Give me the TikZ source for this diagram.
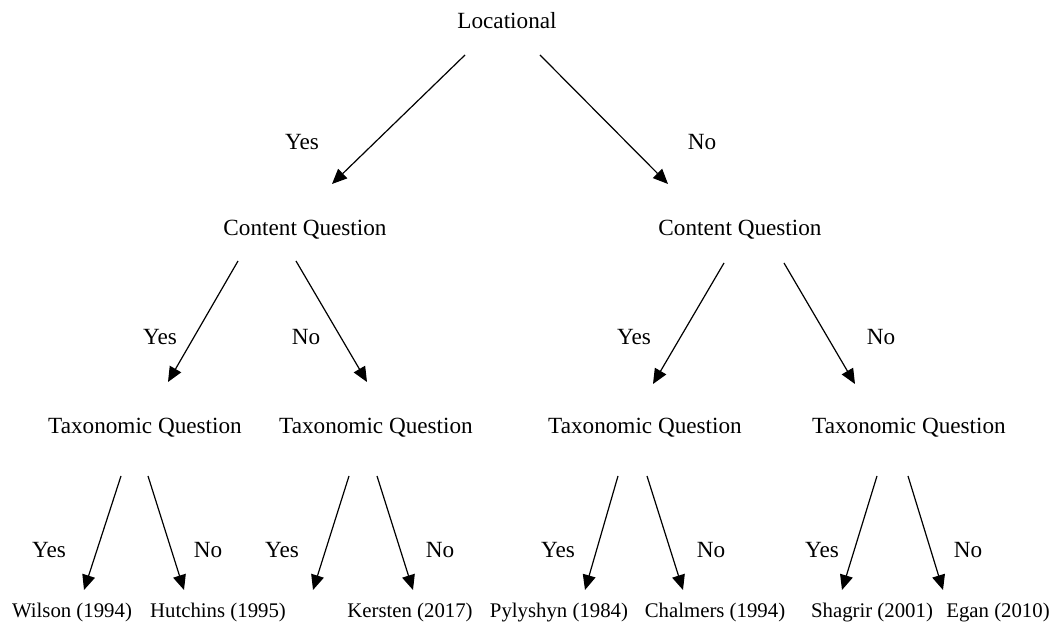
\documentclass[tikz,border=0pt]{standalone}
\usepackage{fontspec}
\setmainfont{Liberation Serif}
\usepackage{tikz}
\usetikzlibrary{calc,arrows.meta}
\tikzset{
  qnode/.style={inner sep=0pt,anchor=base,font=\fontsize{11.6}{14}\selectfont},
  ans/.style={inner sep=0pt,anchor=base,font=\fontsize{11.6}{14}\selectfont},
  leaf/.style={inner sep=0pt,anchor=base,font=\fontsize{10.4}{12.5}\selectfont},
  arr/.style={line width=0.6pt,-{Triangle[length=7.5pt,width=6.5pt]}},
}

\begin{document}
\begin{tikzpicture}[x=0.5pt,y=-0.5pt]
  \useasboundingbox (0,0) rectangle (1062,625);
  % questions
  \node[qnode] (loc) at (507,29) {Locational};
  \node[qnode] (cqL) at (305,236) {Content Question};
  \node[qnode] (cqR) at (740,236) {Content Question};
  \node[qnode] (tqA) at (145,434) {Taxonomic Question};
  \node[qnode] (tqB) at (376,434) {Taxonomic Question};
  \node[qnode] (tqC) at (645,434) {Taxonomic Question};
  \node[qnode] (tqD) at (909,434) {Taxonomic Question};
  % authors
  \node[leaf] (wil) at (72,618)  {Wilson (1994)};
  \node[leaf] (hut) at (218,618) {Hutchins (1995)};
  \coordinate (emp) at (313,590);
  \node[leaf] (ker) at (410,618) {Kersten (2017)};
  \node[leaf] (pyl) at (559,618) {Pylyshyn (1984)};
  \node[leaf] (cha) at (715,618) {Chalmers (1994)};
  \node[leaf] (sha) at (872,618) {Shagrir (2001)};
  \node[leaf] (ega) at (998,618) {Egan (2010)};
  % answers
  \node[ans] (y0) at (302,150) {Yes};
  \node[ans] (n0) at (702,150) {No};
  \node[ans] (y1a) at (160,345) {Yes};
  \node[ans] (n1a) at (306,345) {No};
  \node[ans] (y1b) at (634,345) {Yes};
  \node[ans] (n1b) at (881,345) {No};
  \node[ans] (y2a) at (49,558)  {Yes};
  \node[ans] (n2a) at (208,558) {No};
  \node[ans] (y2b) at (282,558) {Yes};
  \node[ans] (n2b) at (440,558) {No};
  \node[ans] (y2c) at (558,558) {Yes};
  \node[ans] (n2c) at (711,558) {No};
  \node[ans] (y2d) at (822,558) {Yes};
  \node[ans] (n2d) at (968,558) {No};
  % arrows
  \draw[arr] ($(loc.base)+(-42,26)$) -- ($(cqL.base)+(27,-52)$);
  \draw[arr] ($(loc.base)+(33,26)$)  -- ($(cqR.base)+(-72,-52)$);
  \draw[arr] ($(cqL.base)+(-67,25)$) -- ($(tqA.base)+(23,-52)$);
  \draw[arr] ($(cqL.base)+(-9,25)$)  -- ($(tqB.base)+(-9,-52)$);
  \draw[arr] ($(cqR.base)+(-16,27)$) -- ($(tqC.base)+(8,-50)$);
  \draw[arr] ($(cqR.base)+(44,27)$)  -- ($(tqD.base)+(-54,-50)$);
  \draw[arr] ($(tqA.base)+(-24,42)$) -- ($(wil.base)+(12,-28)$);
  \draw[arr] ($(tqA.base)+(3,42)$)   -- ($(hut.base)+(-34,-28)$);
  \draw[arr] ($(tqB.base)+(-27,42)$) -- (emp);
  \draw[arr] ($(tqB.base)+(1,42)$)   -- ($(ker.base)+(3,-28)$);
  \draw[arr] ($(tqC.base)+(-27,42)$) -- ($(pyl.base)+(26,-28)$);
  \draw[arr] ($(tqC.base)+(2,42)$)   -- ($(cha.base)+(-32,-28)$);
  \draw[arr] ($(tqD.base)+(-32,42)$) -- ($(sha.base)+(-30,-28)$);
  \draw[arr] ($(tqD.base)+(-1,42)$)  -- ($(ega.base)+(-55,-28)$);
\end{tikzpicture}
\end{document}
